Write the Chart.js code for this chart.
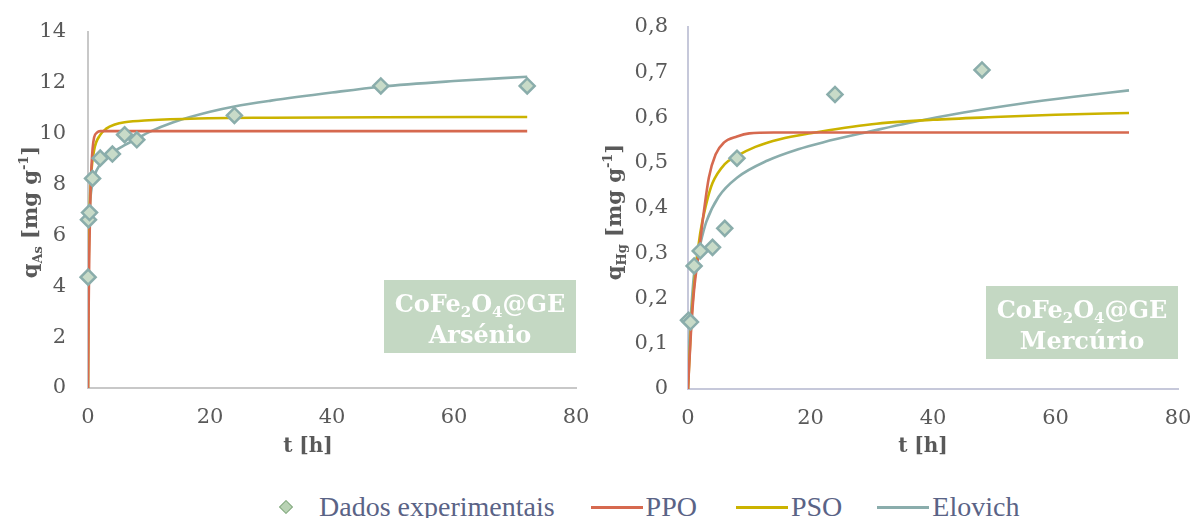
<!DOCTYPE html>
<html>
<head>
<meta charset="utf-8">
<script src="https://cdn.jsdelivr.net/npm/chart.js@4.4.1/dist/chart.umd.min.js"></script>
<style>
  html, body { margin: 0; padding: 0; background: #fff; }
  body { position: relative; width: 1193px; height: 518px; overflow: hidden; }
  #asChart { position: absolute; left: 0; top: 0; }
  #hgChart { position: absolute; left: 597px; top: 0; }
  #legend {
    position: absolute; left: 278px; top: 490px; height: 34px;
    display: flex; align-items: center;
    font-family: "Liberation Serif", serif; font-size: 28px; color: #5a6386;
    white-space: nowrap;
  }
  #legend .dot {
    width: 8px; height: 8px; transform: rotate(45deg);
    background: #b9d3b4; border: 1.5px solid #86ab83; margin: 0 28px 0 3px;
  }
  #legend .ln { width: 52px; height: 3px; margin-right: 3px; }
</style>
</head>
<body>
<canvas id="asChart" width="597" height="470"></canvas>
<canvas id="hgChart" width="596" height="470"></canvas>
<div id="legend">
  <span class="dot"></span><span>Dados experimentais</span>
  <span class="ln" style="background:#d6694f; margin-left:36px"></span><span>PPO</span>
  <span class="ln" style="background:#cbb300; margin-left:39px"></span><span>PSO</span>
  <span class="ln" style="background:#8aadac; margin-left:35px"></span><span>Elovich</span>
</div>
<script>
// Arsenic run: time [h] and uptake [mg/g]
const asTime = [0.02, 0.08, 0.25, 0.75, 2, 4, 6, 8, 24, 48, 72];
const asQ = [4.36, 6.62, 6.9, 8.24, 9.04, 9.2, 9.96, 9.76, 10.72, 11.88, 11.88];
// Mercury run
const hgTime = [0.08, 0.4, 1, 2, 4, 6, 8, 24, 48];
const hgQ = [0.152, 0.148, 0.272, 0.305, 0.313, 0.355, 0.51, 0.651, 0.705];

// model curves (sampled), arsenic
const asPpoT = [0, 0.1, 0.2, 0.35, 0.5, 0.75, 1, 1.5, 2, 72];
const asPpoQ = [0, 3.0, 5.1, 7.1, 8.3, 9.4, 9.85, 10.05, 10.1, 10.1];
const asPsoT = [0, 0.1, 0.25, 0.5, 1, 2, 3, 4.4, 6, 10, 18, 30, 48, 72];
const asPsoQ = [0, 4.4, 6.8, 8.3, 9.35, 9.95, 10.2, 10.36, 10.45, 10.53, 10.6, 10.63, 10.65, 10.66];
const asElvT = [0, 0.03, 0.1, 0.25, 0.5, 1, 2, 4, 6, 8, 10, 14, 20, 24, 30, 40, 48, 60, 72];
const asElvQ = [0, 5.0, 6.3, 7.0, 7.7, 8.3, 8.8, 9.25, 9.55, 9.8, 10.06, 10.45, 10.86, 11.07, 11.3, 11.62, 11.85, 12.07, 12.24];

// model curves (sampled), mercury
const hgPpoT = [0, 0.5, 1, 1.8, 2.6, 3.4, 4.5, 5.9, 8, 10, 14, 72];
const hgPpoQ = [0, 0.13, 0.22, 0.305, 0.393, 0.467, 0.518, 0.545, 0.558, 0.565, 0.567, 0.567];
const hgPsoT = [0, 0.5, 1, 2, 3, 4, 6, 8, 11, 15, 20, 30, 40, 50, 60, 72];
const hgPsoQ = [0, 0.14, 0.23, 0.345, 0.41, 0.455, 0.497, 0.515, 0.535, 0.552, 0.565, 0.585, 0.595, 0.601, 0.606, 0.61];
const hgElvT = [0, 0.2, 0.5, 1, 2, 3, 5, 8, 13, 18, 22, 30, 36, 45, 54, 63, 72];
const hgElvQ = [0, 0.1, 0.17, 0.255, 0.32, 0.37, 0.425, 0.467, 0.505, 0.53, 0.545, 0.57, 0.588, 0.611, 0.63, 0.646, 0.66];

const xTicks = ['0', '20', '40', '60', '80'];
const asTicks = ['0', '2', '4', '6', '8', '10', '12', '14'];
const hgTicks = ['0', '0,1', '0,2', '0,3', '0,4', '0,5', '0,6', '0,7', '0,8'];

const pts = (t, q) => t.map((x, i) => ({ x, y: q[i] }));

// text made of runs so sub/superscripts sit right
function runFont(r, size) {
  const s = (r.sub || r.sup) ? Math.round(size * 0.64) : size;
  return `bold ${s}px "DejaVu Serif"`;
}
function drawRuns(ctx, runs, cx, cy, size, color, rotate) {
  ctx.save();
  ctx.translate(cx, cy);
  if (rotate) ctx.rotate(-Math.PI / 2);
  ctx.fillStyle = color;
  ctx.textAlign = 'left';
  ctx.textBaseline = 'alphabetic';
  let w = 0;
  runs.forEach(r => { ctx.font = runFont(r, size); w += ctx.measureText(r.t).width; });
  let x = -w / 2;
  runs.forEach(r => {
    ctx.font = runFont(r, size);
    const dy = r.sub ? size * 0.22 : r.sup ? -size * 0.42 : 0;
    ctx.fillText(r.t, x, dy);
    x += ctx.measureText(r.t).width;
  });
  ctx.restore();
}

function curve(label, t, q, color) {
  return {
    label, data: pts(t, q), showLine: true, pointRadius: 0, pointHoverRadius: 0,
    borderColor: color, backgroundColor: color, borderWidth: 2.6,
    cubicInterpolationMode: 'monotone'
  };
}

// keep the plot box where the layout padding says
function noScalePad(s) {
  s.paddingLeft = 0; s.paddingRight = 0; s.paddingTop = 0; s.paddingBottom = 0;
}

function kineticChart(id, o) {
  const decor = {
    id: 'decor',
    afterDraw(chart) {
      const ctx = chart.ctx;
      const area = chart.chartArea;
      // axis titles
      drawRuns(ctx, o.yTitle, o.yTitleX, 212, 21, '#595959', true);
      drawRuns(ctx, [{ t: 't [h]' }], area.left + o.xTitleDx, 452, 20, '#595959', false);
      // sample tag box
      const bx = area.right - 192, by = area.bottom - o.boxLift - 73;
      ctx.fillStyle = '#c4d8c3';
      ctx.fillRect(bx, by, 192, 73);
      drawRuns(ctx, [{ t: 'CoFe' }, { t: '2', sub: true }, { t: 'O' }, { t: '4', sub: true }, { t: '@GE' }],
        bx + 96, by + 32, 24, '#ffffff', false);
      drawRuns(ctx, [{ t: o.metal }], bx + 96, by + 63, 24, '#ffffff', false);
    }
  };
  const tickFont = { family: '"DejaVu Serif"', size: 21 };
  return new Chart(document.getElementById(id), {
    type: 'scatter',
    data: {
      datasets: [
        {
          label: 'Dados experimentais', data: pts(o.t, o.q),
          pointStyle: 'rectRot', pointRadius: 7.5, pointHoverRadius: 7.5,
          backgroundColor: '#c8dbc8', borderColor: '#8aadab', borderWidth: 2.5, clip: false
        },
        curve('PPO', o.ppo[0], o.ppo[1], '#d6694f'),
        curve('PSO', o.pso[0], o.pso[1], '#cbb300'),
        curve('Elovich', o.elv[0], o.elv[1], '#8aadac')
      ]
    },
    options: {
      responsive: false, animation: false, events: [],
      layout: { padding: o.pad },
      plugins: { legend: { display: false }, tooltip: { enabled: false } },
      scales: {
        x: {
          type: 'linear', min: 0, max: 80,
          ticks: { stepSize: 20, padding: 17, color: '#595959', font: tickFont, maxRotation: 0,
                   callback: (v, i) => xTicks[i] },
          grid: { drawOnChartArea: false, drawTicks: false },
          border: { color: o.axisColor, width: 2 },
          afterFit: s => { s.height = o.xh; noScalePad(s); }
        },
        y: {
          min: 0, max: o.ymax,
          ticks: { stepSize: o.ystep, padding: o.ytPad, color: '#595959', font: tickFont, autoSkip: false,
                   callback: (v, i) => o.yLabels[i] },
          grid: { drawOnChartArea: false, drawTicks: false },
          border: { color: o.axisColor, width: 2 },
          afterFit: s => { s.width = 70; noScalePad(s); }
        }
      }
    },
    plugins: [decor]
  });
}

kineticChart('asChart', {
  t: asTime, q: asQ,
  ppo: [asPpoT, asPpoQ], pso: [asPsoT, asPsoQ], elv: [asElvT, asElvQ],
  ymax: 14, ystep: 2, yLabels: asTicks,
  pad: { left: 18, right: 21, top: 32, bottom: 0 }, xh: 82, ytPad: 22,
  axisColor: '#c8c8c8', yTitleX: 37, xTitleDx: 220, boxLift: 35, metal: 'Arsénio',
  yTitle: [{ t: 'q' }, { t: 'As', sub: true }, { t: ' [mg g' }, { t: '-1', sup: true }, { t: ']' }]
});

kineticChart('hgChart', {
  t: hgTime, q: hgQ,
  ppo: [hgPpoT, hgPpoQ], pso: [hgPsoT, hgPsoQ], elv: [hgElvT, hgElvQ],
  ymax: 0.8, ystep: 0.1, yLabels: hgTicks,
  pad: { left: 21, right: 15, top: 27, bottom: 0 }, xh: 81, ytPad: 20,
  axisColor: '#c6c8da', yTitleX: 24, xTitleDx: 235, boxLift: 30, metal: 'Mercúrio',
  yTitle: [{ t: 'q' }, { t: 'Hg', sub: true }, { t: ' [mg g' }, { t: '-1', sup: true }, { t: ']' }]
});
</script>
</body>
</html>
